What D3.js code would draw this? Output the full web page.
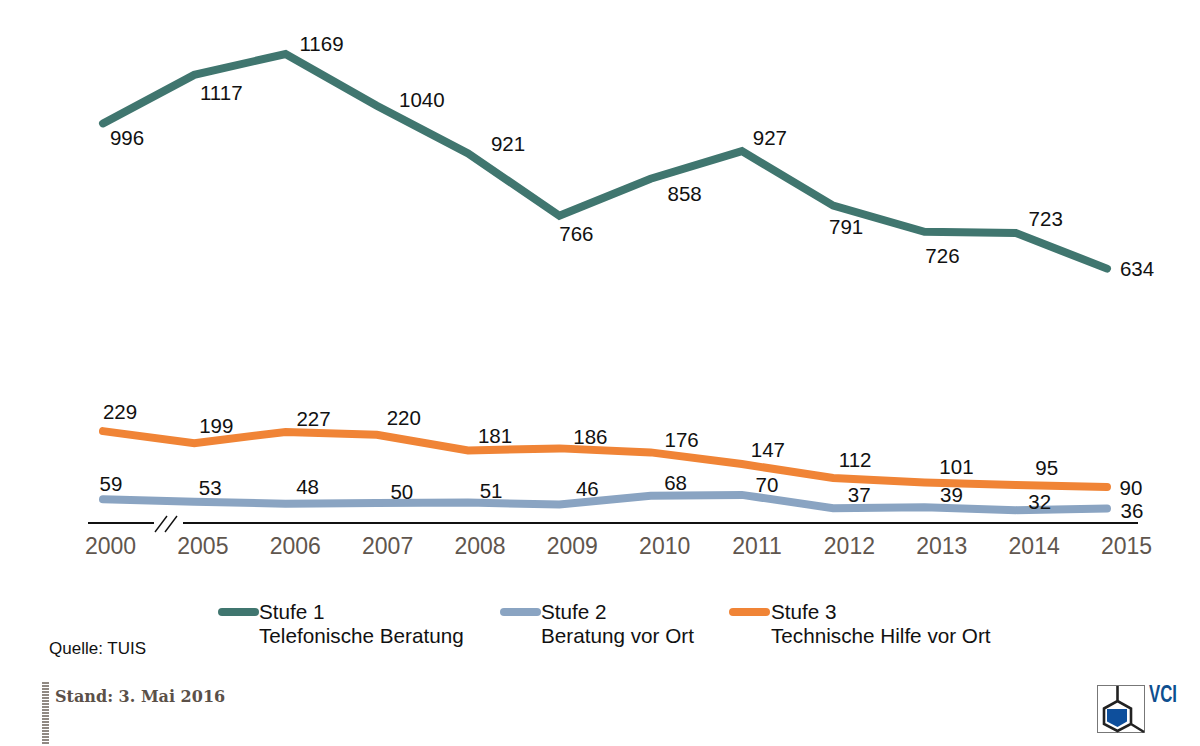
<!DOCTYPE html>
<html>
<head>
<meta charset="utf-8">
<script src="https://cdn.jsdelivr.net/npm/d3@7"></script>
<style>
  html, body { margin: 0; padding: 0; background: #fff; }
  svg { display: block; }
  text { font-family: "Liberation Sans", Arial, sans-serif; }
</style>
</head>
<body>
<div id="chart"></div>
<script>
const years = ["2000", "2005", "2006", "2007", "2008", "2009", "2010", "2011", "2012", "2013", "2014", "2015"];
const stufe1 = [996, 1117, 1169, 1040, 921, 766, 858, 927, 791, 726, 723, 634];
const stufe2 = [59, 53, 48, 50, 51, 46, 68, 70, 37, 39, 32, 36];
const stufe3 = [229, 199, 227, 220, 181, 186, 176, 147, 112, 101, 95, 90];
const legendTitles = ["Stufe 1", "Stufe 2", "Stufe 3"];
const legendTexts = ["Telefonische Beratung", "Beratung vor Ort", "Technische Hilfe vor Ort"];

// label nudges relative to each point, placed by hand like in the original
const offsets1 = [[24, 14], [27, 18], [36, -10], [45, -6], [40, -10], [17, 18], [34, 15], [28, -13], [13, 21], [18, 24], [30, -14], [30, 0]];
const offsets2 = [[8, -16], [16, -14], [22, -17], [25, -11], [23, -12], [28, -16], [25, -13], [25, -10], [26, -14], [27, -13], [24, -9], [25, 2]];
const offsets3 = [[17, -20], [22, -18], [28, -13], [27, -17], [27, -15], [31, -12], [31, -13], [26, -14], [22, -18], [32, -16], [31, -17], [24, 1]];

const width = 1200;
const height = 746;

const colors = { s1: "#40766f", s2: "#8aa4c2", s3: "#f08436" };

const svg = d3.select("#chart").append("svg")
  .attr("width", width)
  .attr("height", height);

const xScale = d3.scalePoint().domain(years).range([103, 1107]);
// tick labels sit on a slightly wider spacing than the lines
const xTicks = d3.scalePoint().domain(years).range([110, 1126]);
const yScale = d3.scaleLinear().domain([0, 1169]).range([523, 54]);

function drawSeries(values, color, offsets) {
  const line = d3.line()
    .x((d, i) => xScale(years[i]))
    .y((d) => yScale(d));

  svg.append("path")
    .datum(values)
    .attr("fill", "none")
    .attr("stroke", color)
    .attr("stroke-width", 8)
    .attr("stroke-linecap", "round")
    .attr("stroke-linejoin", "miter")
    .attr("d", line);

  svg.append("g").selectAll("text")
    .data(values)
    .join("text")
    .attr("x", (d, i) => xScale(years[i]) + offsets[i][0])
    .attr("y", (d, i) => yScale(d) + offsets[i][1])
    .attr("dy", "0.36em")
    .attr("text-anchor", "middle")
    .attr("font-size", 20.5)
    .attr("fill", "#111")
    .text((d) => d);
}

function drawAxis() {
  const axisY = 523;
  const axis = d3.axisBottom(xTicks).tickSize(0).tickPadding(15);
  const g = svg.append("g").attr("transform", `translate(0, ${axisY})`).call(axis);
  g.select(".domain").remove();
  g.selectAll("text")
    .attr("font-size", 23)
    .attr("fill", "#5f564e");

  // baseline with the break between 2000 and 2005
  [[88, 154], [183, 1138]].forEach((p) => {
    svg.append("line")
      .attr("x1", p[0]).attr("x2", p[1])
      .attr("y1", axisY).attr("y2", axisY)
      .attr("stroke", "#111").attr("stroke-width", 1.8);
  });
  [155, 165].forEach((x) => {
    svg.append("line")
      .attr("x1", x).attr("x2", x + 12)
      .attr("y1", 532).attr("y2", 516)
      .attr("stroke", "#111").attr("stroke-width", 1.4);
  });
}

function drawLegend() {
  const swatchX = [222, 504, 733];
  const textX = [259, 541, 771];
  const swatchColors = [colors.s1, colors.s2, colors.s3];
  legendTitles.forEach((title, i) => {
    svg.append("line")
      .attr("x1", swatchX[i]).attr("x2", swatchX[i] + 33)
      .attr("y1", 612).attr("y2", 612)
      .attr("stroke", swatchColors[i])
      .attr("stroke-width", 8)
      .attr("stroke-linecap", "round");
    svg.append("text").attr("x", textX[i]).attr("y", 619)
      .attr("font-size", 20.7).attr("fill", "#111").text(title);
    svg.append("text").attr("x", textX[i]).attr("y", 643)
      .attr("font-size", 20.7).attr("fill", "#111").text(legendTexts[i]);
  });
}

function drawFooter() {
  svg.append("text").attr("x", 49).attr("y", 654)
    .attr("font-size", 17).attr("fill", "#111").text("Quelle: TUIS");

  svg.append("text").attr("x", 55).attr("y", 702)
    .style("font-family", '"DejaVu Serif", serif')
    .attr("font-weight", "bold")
    .attr("font-size", 16)
    .attr("fill", "#5b5048")
    .text("Stand: 3. Mai 2016");

  // striped bar left of the date
  svg.append("g").selectAll("line")
    .data(d3.range(683, 745, 3))
    .join("line")
    .attr("x1", 42).attr("x2", 49)
    .attr("y1", (d) => d).attr("y2", (d) => d)
    .attr("stroke", "#6b625a")
    .attr("stroke-width", 1.5);
}

function drawLogo() {
  const logo = svg.append("g");
  logo.append("rect")
    .attr("x", 1097.5).attr("y", 685.5).attr("width", 47).attr("height", 47)
    .attr("fill", "#fff").attr("stroke", "#777").attr("stroke-width", 1);
  logo.append("path")
    .attr("d", "M1107,709 L1127,709 L1127,721.5 L1117.5,727 L1107,721.5 Z")
    .attr("fill", "#0e4f9c");
  logo.append("path")
    .attr("d", "M1104,708.5 L1117.5,701 L1131,708.5 L1131,724 L1117.5,731 L1104,724 Z M1117.5,686 L1117.5,701 M1131,724 L1144,732")
    .attr("fill", "none").attr("stroke", "#222").attr("stroke-width", 2.6);
  logo.append("text").attr("x", 1149).attr("y", 702)
    .attr("font-size", 23).attr("font-weight", "bold").attr("fill", "#0e4f8f")
    .attr("textLength", 28).attr("lengthAdjust", "spacingAndGlyphs")
    .text("VCI");
}

drawSeries(stufe1, colors.s1, offsets1);
drawSeries(stufe3, colors.s3, offsets3);
drawSeries(stufe2, colors.s2, offsets2);
drawAxis();
drawLegend();
drawFooter();
drawLogo();
</script>
</body>
</html>
